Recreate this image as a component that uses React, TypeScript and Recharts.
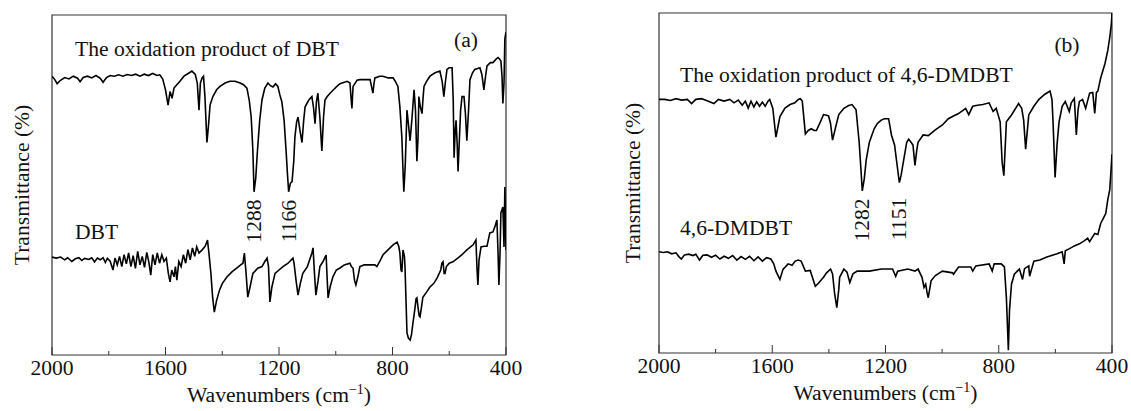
import React from 'react';
import { LineChart, Line, XAxis, YAxis, ReferenceArea, ReferenceDot } from 'recharts';

const FONT = '"Liberation Serif", "Times New Roman", Times, serif';
const FS = 21.6;

// x-axis ticks (wavenumber, cm-1); majors every 400 carry labels
const xTicks = [2000, 1800, 1600, 1400, 1200, 1000, 800, 600, 400];

type Pair = [number, number];

// ---------- Panel (a) ----------
const oxidizedDBT: Pair[] = [
  [2000, 82], [1990, 81], [1982, 79.8], [1970, 80.8], [1955, 81.6], [1940, 81.2], [1925, 82], [1910, 81.4],
  [1901, 80.4], [1890, 81.6], [1875, 82], [1860, 81.5], [1845, 82.2], [1830, 81.4], [1820, 80.2], [1808, 81.6],
  [1795, 82.2], [1780, 82], [1765, 82.4], [1750, 82], [1735, 82.5], [1720, 82.2], [1705, 82.6], [1690, 82],
  [1675, 82.6], [1660, 82.2], [1645, 82.8], [1630, 82.2], [1620, 82.4], [1610, 81.2], [1600, 78], [1591, 73.5],
  [1584, 77.5], [1577, 75.5], [1570, 78.5], [1560, 79.5], [1549, 80.5], [1535, 82], [1520, 82.8], [1507, 83.5],
  [1495, 82.5], [1488, 80], [1482, 72], [1477, 80], [1471, 81.5], [1466, 82], [1461, 76], [1454, 62.5],
  [1448, 68], [1443, 73.5], [1433, 76], [1420, 78], [1408, 79], [1390, 80], [1373, 80.5], [1355, 80.5],
  [1337, 80], [1325, 79.5], [1313, 78.5], [1305, 75], [1298, 70], [1292, 60], [1288, 48], [1282, 52],
  [1276, 60], [1268, 69], [1260, 75], [1250, 78.5], [1239, 80], [1230, 79.2], [1221, 78.8], [1212, 79.8],
  [1204, 79], [1197, 76.5], [1190, 74.5], [1182, 69], [1175, 60], [1170, 53], [1166, 48], [1160, 50.5],
  [1154, 51], [1148, 57], [1144, 64], [1138, 68.5], [1133, 70], [1126, 66], [1119, 62.5], [1113, 69],
  [1108, 73], [1095, 75], [1084, 76], [1078, 72.5], [1073, 68], [1068, 74.5], [1063, 77], [1056, 70],
  [1049, 60], [1043, 70], [1038, 75], [1030, 76], [1020, 77], [1008, 78], [996, 79], [985, 79.8],
  [960, 80.5], [950, 80], [946, 75.5], [943, 72.5], [939, 79], [925, 80.8], [915, 81], [895, 81],
  [879, 81], [874, 79], [869, 77], [865, 80], [862, 81.5], [845, 82], [834, 82], [815, 81.5],
  [798, 81.5], [790, 80.5], [781, 79], [774, 73], [767, 64], [762, 52], [760, 48], [755, 56],
  [749, 72], [744, 68], [738, 63], [731, 70], [724, 78], [719, 72], [714, 57], [710, 64],
  [707, 76], [702, 73], [696, 71], [692, 76], [689, 79], [680, 80.5], [668, 82], [650, 83],
  [633, 83.5], [625, 80.5], [619, 76], [614, 80], [608, 84], [600, 84.5], [590, 84.5], [586, 75],
  [583, 58], [579, 66], [576, 69], [572, 62], [569, 54], [565, 62], [560, 72], [555, 76],
  [548, 76], [543, 71], [538, 63], [532, 72], [527, 81], [518, 83], [510, 84], [492, 84.5],
  [485, 82.5], [478, 78], [472, 82], [467, 85], [455, 86], [446, 86], [435, 87], [428, 87.5],
  [422, 87], [418, 86.5], [414, 82], [411, 74], [407, 80], [404, 93], [402, 94], [400, 95],
];

const pureDBT: Pair[] = [
  [2000, 28.8], [1985, 28.5], [1970, 28.8], [1955, 28], [1945, 28.6], [1930, 27.5], [1918, 28.3], [1905, 28.6],
  [1895, 27.8], [1885, 28.4], [1870, 28.1], [1860, 28.6], [1850, 27.4], [1840, 28.5], [1830, 28], [1820, 28.6],
  [1812, 27.2], [1805, 28.4], [1795, 27.6], [1785, 25], [1778, 28.5], [1770, 26.5], [1762, 29], [1754, 26],
  [1746, 29.5], [1738, 26.8], [1730, 30], [1722, 26], [1714, 29.2], [1706, 25.5], [1698, 30.5], [1690, 26.5],
  [1682, 29], [1674, 25.8], [1666, 30.2], [1658, 27], [1652, 23.5], [1645, 29.5], [1637, 26.5], [1629, 30],
  [1621, 27], [1613, 29.5], [1605, 27.5], [1597, 28.5], [1590, 24], [1584, 21.5], [1578, 25], [1570, 23],
  [1565, 26], [1560, 22], [1553, 27.5], [1545, 26], [1537, 29.5], [1529, 27], [1521, 31], [1513, 28],
  [1505, 31.5], [1497, 29], [1490, 31.8], [1482, 30], [1470, 31], [1460, 32], [1452, 33.8], [1447, 30],
  [1440, 24], [1434, 17], [1428, 12.6], [1420, 16], [1410, 19], [1400, 21], [1383, 23], [1365, 24.5],
  [1348, 25.6], [1335, 26.5], [1327, 27], [1322, 30], [1316, 24], [1310, 17], [1302, 20], [1292, 24],
  [1275, 25.5], [1260, 26], [1250, 27.5], [1242, 28.5], [1237, 26], [1232, 15.6], [1225, 20], [1214, 24],
  [1200, 25], [1186, 26], [1168, 27], [1151, 28.5], [1147, 27], [1140, 22], [1133, 17.6], [1125, 21],
  [1116, 24], [1100, 26], [1084, 30], [1080, 31.5], [1075, 24], [1070, 17.6], [1062, 22], [1056, 26],
  [1045, 27.5], [1034, 29.4], [1030, 22], [1027, 16.8], [1020, 20], [1010, 23], [998, 25], [985, 25.6],
  [970, 26.5], [950, 27], [945, 26], [939, 25.5], [934, 22], [929, 20.6], [922, 23], [915, 26],
  [900, 26.5], [890, 26.5], [870, 26.5], [862, 26.5], [855, 26], [845, 27.5], [834, 29.4], [815, 31],
  [798, 32.4], [784, 33.2], [778, 32], [774, 30], [770, 25], [767, 24.4], [763, 30.9], [758, 29],
  [756, 26], [752, 15], [749, 6.5], [744, 5], [738, 4.4], [733, 6], [728, 9.4], [722, 13],
  [717, 16.5], [714, 16.8], [710, 14], [706, 11.5], [703, 11.2], [698, 14], [693, 17], [680, 18.5],
  [668, 20], [655, 21], [643, 22.6], [630, 25], [626, 27], [622, 27.4], [618, 24], [615, 24],
  [610, 26], [600, 27], [587, 27.4], [570, 28.5], [555, 29.5], [538, 30.9], [525, 31.8], [516, 32.4],
  [506, 33.8], [502, 25], [499, 20.6], [495, 28], [488, 31.8], [478, 32], [467, 32], [457, 35.9],
  [446, 36.2], [438, 38], [432, 39.7], [428, 30], [425, 20.6], [421, 30], [418, 41.8], [411, 43.5],
  [407, 31.8], [404, 49.4], [400, 30.9],
];

// ---------- Panel (b) ----------
const oxidizedDMDBT: Pair[] = [
  [2000, 75], [1980, 75], [1960, 74.7], [1940, 75.2], [1920, 74.8], [1900, 75], [1885, 73.8], [1870, 75],
  [1850, 75.2], [1830, 74.6], [1806, 73.8], [1790, 75], [1770, 74.5], [1750, 75], [1735, 74], [1720, 74.8],
  [1706, 73.3], [1695, 74.5], [1685, 72.5], [1675, 74.5], [1665, 72.8], [1655, 74.3], [1645, 73], [1635, 74.2],
  [1625, 73], [1615, 74.5], [1609, 75], [1598, 72.4], [1587, 64.1], [1580, 67], [1573, 70], [1555, 72.5],
  [1537, 73.5], [1520, 74], [1508, 75], [1501, 75.2], [1494, 74.5], [1483, 65], [1473, 66], [1462, 66.5],
  [1452, 66], [1444, 66], [1430, 68.5], [1419, 70.6], [1408, 70.4], [1401, 70.2], [1394, 68], [1387, 63.2],
  [1376, 67], [1365, 70.6], [1347, 72.4], [1330, 73.2], [1318, 73.5], [1304, 72], [1293, 62.6], [1286, 53.8],
  [1282, 48.5], [1275, 52], [1268, 57.6], [1257, 62.6], [1240, 66.5], [1229, 68], [1215, 69], [1204, 69.4],
  [1189, 69.4], [1179, 64.7], [1168, 61.8], [1157, 54.7], [1151, 50.9], [1145, 53], [1139, 55.9], [1125, 62.6],
  [1118, 63.5], [1110, 62.6], [1103, 61.8], [1096, 55.9], [1090, 60], [1085, 62.6], [1067, 64.7], [1049, 64.5],
  [1024, 66.2], [999, 67.6], [978, 69.4], [960, 70.2], [942, 70.9], [917, 72.4], [906, 70.6], [892, 73],
  [875, 73.3], [856, 73.5], [834, 74], [820, 71.5], [809, 72.4], [795, 68.5], [788, 56.8], [782, 52.9],
  [773, 68.5], [755, 70.5], [730, 73.8], [719, 72.4], [712, 69], [705, 60.6], [694, 70.5], [676, 73],
  [658, 75], [637, 76.5], [619, 77.4], [612, 75], [608, 68], [601, 52.4], [594, 62], [587, 68.5],
  [576, 73], [565, 74.4], [551, 71.5], [544, 74], [533, 75.3], [526, 64.7], [520, 72], [515, 74.4],
  [504, 75], [493, 72.4], [479, 76.8], [468, 77], [461, 70.9], [455, 77], [450, 77.4], [440, 81.2],
  [425, 85.3], [415, 89.1], [408, 92.9], [402, 97], [400, 100],
];

const pureDMDBT: Pair[] = [
  [2000, 30.9], [1985, 30.7], [1970, 30.9], [1955, 30.3], [1940, 30.6], [1930, 29.5], [1921, 28.8], [1910, 30],
  [1895, 30.2], [1880, 29.8], [1870, 30.2], [1857, 28.5], [1845, 29.9], [1830, 30], [1815, 29.3], [1800, 29.9],
  [1785, 28.8], [1770, 29.6], [1755, 29], [1740, 29.8], [1725, 28.5], [1710, 29.5], [1695, 28.7], [1680, 29.6],
  [1665, 28.3], [1650, 29.4], [1635, 28.2], [1620, 29.2], [1605, 28.8], [1595, 27.5], [1587, 25.3], [1573, 22.9],
  [1562, 25.8], [1544, 27.4], [1530, 27], [1519, 28.2], [1508, 28.5], [1498, 28.2], [1483, 25.3], [1466, 25.5],
  [1448, 20.9], [1437, 21.8], [1419, 23.5], [1408, 24.8], [1394, 25.9], [1387, 24.5], [1380, 19], [1372, 14.7],
  [1365, 20], [1362, 23.5], [1347, 25.9], [1336, 25], [1326, 22], [1315, 24.5], [1300, 25.3], [1286, 25.3],
  [1257, 25.3], [1214, 25.9], [1175, 25.9], [1164, 23.8], [1157, 25.3], [1121, 25.9], [1096, 25.3], [1085, 25.9],
  [1071, 23.5], [1064, 20.6], [1058, 21.5], [1053, 19], [1049, 17.6], [1039, 22.5], [1024, 24], [999, 25.3],
  [963, 24.8], [960, 24.4], [942, 26.5], [910, 26.5], [899, 26.5], [892, 25.3], [881, 26.8], [834, 27.4],
  [823, 25.3], [816, 27.4], [791, 27.4], [780, 26.5], [773, 17.6], [766, 2.4], [762, 14], [755, 21.5],
  [745, 24.4], [727, 25.9], [716, 22.9], [709, 26], [694, 26.8], [691, 23.8], [676, 28.2], [655, 28.5],
  [630, 29.4], [594, 30.3], [576, 30.9], [569, 27.4], [565, 31.2], [550, 31.8], [533, 32.6], [515, 33.2],
  [497, 34.1], [486, 34.8], [479, 33.8], [468, 35.3], [461, 36.2], [450, 35.9], [440, 39.1], [425, 41.5],
  [422, 42], [415, 45.9], [408, 48.8], [404, 53.8], [400, 59.1],
];

const toRows = (pairs: Pair[]) => pairs.map(([w, t]) => ({ w, t }));

type Note = { w: number; t: number; text: string; kind: 'start' | 'middle' | 'vertical' };

const Y_TITLE = 'Transmittance (%)';

const notesA: Note[] = [
  { w: 1919, t: 88, text: 'The oxidation product of DBT', kind: 'start' },
  { w: 541, t: 90.6, text: '(a)', kind: 'middle' },
  { w: 1919, t: 34.1, text: 'DBT', kind: 'start' },
  { w: 1288, t: 39.4, text: '1288', kind: 'vertical' },
  { w: 1166, t: 39.4, text: '1166', kind: 'vertical' },
  { w: 2106, t: 50, text: Y_TITLE, kind: 'vertical' },
];

const notesB: Note[] = [
  { w: 1926, t: 80.1, text: 'The oxidation product of 4,6-DMDBT', kind: 'start' },
  { w: 559, t: 88.7, text: '(b)', kind: 'middle' },
  { w: 1926, t: 35.8, text: '4,6-DMDBT', kind: 'start' },
  { w: 1282, t: 40.1, text: '1282', kind: 'vertical' },
  { w: 1151, t: 40.4, text: '1151', kind: 'vertical' },
  { w: 2092, t: 50.8, text: Y_TITLE, kind: 'vertical' },
];

const textStyle = { fontFamily: FONT, fontSize: FS, fill: '#111' } as const;

const AxisTick = (props: any) => {
  const { x, y, payload } = props;
  const major = payload.value % 400 === 0;
  return (
    <g>
      <line x1={x} x2={x} y1={y} y2={y - (major ? 8 : 4)} stroke="#333" strokeWidth={1} />
      {major && (
        <text x={x} y={y + 20} textAnchor="middle" {...textStyle}>
          {payload.value}
        </text>
      )}
    </g>
  );
};

const renderNote = (n: Note) => (p: any) => {
  const vb = p.viewBox || {};
  const x = vb.x + (vb.width || 0) / 2;
  const y = vb.y + (vb.height || 0) / 2;
  if (n.kind === 'vertical') {
    return (
      <text x={x} y={y} transform={`rotate(-90 ${x} ${y})`} textAnchor="middle" dominantBaseline="central" {...textStyle}>
        {n.text}
      </text>
    );
  }
  return (
    <text x={x} y={y} textAnchor={n.kind === 'start' ? 'start' : 'middle'} {...textStyle}>
      {n.text}
    </text>
  );
};

type PanelProps = {
  width: number;
  margin: { top: number; right: number; bottom: number; left: number };
  yDomain: [number, number];
  series: Pair[][];
  notes: Note[];
};

function Panel({ width, margin, yDomain, series, notes }: PanelProps) {
  return (
    <LineChart width={width} height={411} margin={margin}>
      <XAxis
        type="number"
        dataKey="w"
        domain={[400, 2000]}
        reversed
        allowDataOverflow
        ticks={xTicks}
        interval={0}
        tickLine={false}
        axisLine={false}
        tickSize={0}
        tickMargin={0}
        height={30}
        tick={<AxisTick />}
        label={(p: any) => {
          const vb = p.viewBox;
          const cx = vb.x + vb.width / 2;
          return (
            <text x={cx} y={vb.y + 47} textAnchor="middle" {...textStyle}>
              <tspan>Wavenumbers (cm</tspan>
              <tspan dy={-8} fontSize={14}>−1</tspan>
              <tspan dy={8}>)</tspan>
            </text>
          );
        }}
      />
      <YAxis type="number" domain={yDomain} allowDataOverflow hide />
      <ReferenceArea x1={2000} x2={400} y1={yDomain[0]} y2={yDomain[1]} fill="none" stroke="#333" strokeWidth={1.2} ifOverflow="visible" />
      {series.map((s, i) => (
        <Line
          key={i}
          data={toRows(s)}
          dataKey="t"
          type="linear"
          stroke="#000"
          strokeWidth={1.6}
          dot={false}
          activeDot={false}
          isAnimationActive={false}
        />
      ))}
      {notes.map((n, i) => (
        <ReferenceDot key={i} x={n.w} y={n.t} r={0} fill="none" stroke="none" ifOverflow="visible" label={renderNote(n)} />
      ))}
    </LineChart>
  );
}

export default function App() {
  return (
    <div style={{ position: 'absolute', left: 0, top: 0, width: 1131, height: 411, background: '#fff' }}>
      <div style={{ position: 'absolute', left: 0, top: 0 }}>
        <Panel
          width={530}
          margin={{ top: 15, right: 24, bottom: 26, left: 52 }}
          yDomain={[0, 100]}
          series={[oxidizedDBT, pureDBT]}
          notes={notesA}
        />
      </div>
      <div style={{ position: 'absolute', left: 560, top: 0 }}>
        <Panel
          width={571}
          margin={{ top: 13, right: 19, bottom: 28, left: 99 }}
          yDomain={[1.6, 100]}
          series={[oxidizedDMDBT, pureDMDBT]}
          notes={notesB}
        />
      </div>
    </div>
  );
}
